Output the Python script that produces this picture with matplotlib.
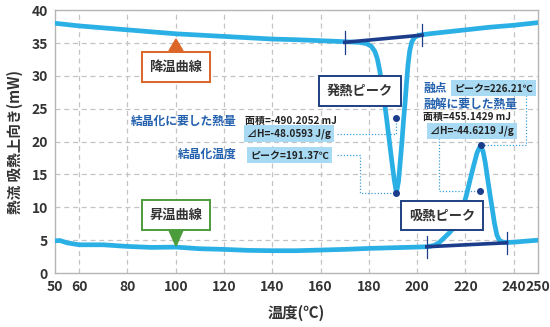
import numpy as np
import matplotlib.pyplot as plt

plt.rcParams['font.family'] = ['Noto Sans CJK JP', 'DejaVu Sans']

# 降温曲線 (cooling run) - temperature / heat flow
cool_t = [50, 60, 70, 80, 90, 100, 110, 120, 130, 140, 150, 160, 170, 176,
          179, 181, 182.5, 183.5, 184.5, 185.5, 186.5, 187.5, 188.5, 189.5,
          190.5, 191.4, 192.3, 193, 193.7, 194.3, 195, 195.6, 196.2, 196.9,
          197.8, 199, 201, 205, 210, 220, 230, 240, 250]
cool_hf = [38.0, 37.6, 37.3, 37.0, 36.7, 36.4, 36.2, 36.0, 35.8, 35.6, 35.5,
           35.35, 35.2, 35.1, 34.9, 34.5, 33.7, 32.6, 30.8, 28.5, 25.9, 23.0,
           20.0, 17.0, 14.2, 12.2, 14.0, 17.0, 20.0, 23.0, 26.0, 29.0, 31.7,
           33.8, 35.2, 35.9, 36.2, 36.4, 36.6, 37.0, 37.4, 37.7, 38.1]

# 昇温曲線 (heating run)
heat_t = [50, 52, 55, 60, 70, 80, 90, 100, 110, 120, 130, 140, 150, 160, 170,
          180, 190, 200, 204, 207, 209, 211, 213, 215, 217, 219, 220.5, 222,
          223.5, 224.8, 226.2, 227.3, 228.2, 229, 230, 231, 232, 233, 234,
          235.5, 237, 240, 245, 250]
heat_hf = [4.9, 4.95, 4.6, 4.3, 4.3, 4.05, 3.9, 3.95, 3.7, 3.6, 3.45, 3.4,
           3.4, 3.5, 3.6, 3.75, 3.85, 3.95, 4.0, 4.2, 4.6, 5.3, 6.0, 6.8, 8.2,
           10.0, 12.0, 14.3, 16.5, 18.3, 19.4, 18.5, 16.8, 14.8, 12.3, 10.0,
           7.6, 5.8, 5.0, 4.7, 4.65, 4.7, 4.85, 5.0]

# baselines used for the peak integration
cool_base_t = [170, 202]
cool_base_hf = [35.1, 36.2]
heat_base_t = [204, 237]
heat_base_hf = [4.0, 4.6]

# analysis results
exo_peak = (191.4, 12.2)
exo_mark = (191.2, 23.6)
endo_peak = (226.3, 19.5)
endo_mark = (226.2, 12.5)

xticks = [50, 60, 80, 100, 120, 140, 160, 180, 200, 220, 240, 250]
yticks = [0, 5, 10, 15, 20, 25, 30, 35, 40]

curve_c = '#2bb0e6'
navy = '#1c3d8c'
head_c = '#2360ad'
box_c = '#a9daf3'
dot_c = '#3d9fd8'

fig = plt.figure(figsize=(5.5, 3.27), dpi=100)
ax = fig.add_axes([0.1, 0.165, 0.878, 0.804])

for v in range(60, 250, 20):
    ax.axvline(v, color='#c4c4c4', lw=0.9, ls=(0, (4, 3)), zorder=0)
for v in range(5, 40, 5):
    ax.axhline(v, color='#c4c4c4', lw=0.9, ls=(0, (4, 3)), zorder=0)

ax.plot(cool_t, cool_hf, color=curve_c, lw=3.4, solid_capstyle='round', zorder=3)
ax.plot(heat_t, heat_hf, color=curve_c, lw=3.4, solid_capstyle='round', zorder=3)

for bt, bh in [(cool_base_t, cool_base_hf), (heat_base_t, heat_base_hf)]:
    ax.plot(bt, bh, color=navy, lw=2.6, zorder=4)
    for t, h in zip(bt, bh):
        ax.plot([t, t], [h - 1.7, h + 1.7], color=navy, lw=0.9, zorder=4)

# dotted leader lines
dot_kw = dict(color=dot_c, lw=0.9, ls=(0, (1, 1.5)), zorder=2)
ax.plot([166.8, exo_mark[0], exo_mark[0]], [21.2, 21.2, exo_mark[1]], **dot_kw)
ax.plot([166.8, 176.3, 176.3, exo_peak[0]], [17.9, 17.9, exo_peak[1], exo_peak[1]], **dot_kw)
ax.plot([endo_peak[0], 245, 245], [endo_peak[1], endo_peak[1], 27.4], **dot_kw)
ax.plot([209, 209, endo_mark[0]], [20.6, endo_mark[1], endo_mark[1]], **dot_kw)

for p in [exo_peak, exo_mark, endo_peak, endo_mark]:
    ax.plot(*p, 'o', color=navy, ms=4, zorder=5)

# curve labels with pointers
def callout(x, y, s, ec, tri):
    ax.text(x, y, s, ha='center', va='center', fontsize=9.5, weight='bold',
            color='#333333', zorder=6,
            bbox=dict(boxstyle='square,pad=0.6', fc='white', ec=ec, lw=1.4))
    if tri is not None:
        ax.fill([x - 2.9, x + 2.9, x], tri[:2] + [tri[2]], color=ec, zorder=6)

callout(100.1, 31.3, '降温曲線', '#dc6426', [33.8, 33.8, 35.6])
callout(100.1, 8.8, '昇温曲線', '#4c9c3c', [6.5, 6.5, 4.1])
callout(176.3, 27.7, '発熱ピーク', '#1e3f80', None)
callout(210.2, 8.75, '吸熱ピーク', '#1e3f80', None)

# numeric results
lbl_box = dict(boxstyle='square,pad=0.3', fc=box_c, ec='none')
ax.text(125.4, 23.1, '結晶化に要した熱量', ha='right', va='center', fontsize=8.5,
        weight='bold', color=head_c)
ax.text(128.7, 23.1, '面積=-490.2052 mJ', ha='left', va='center', fontsize=7.2,
        weight='bold', color='#222222')
ax.text(147.0, 21.2, '⊿H=-48.0593 J/g', ha='center', va='center', fontsize=7.2,
        weight='bold', color='#222222', bbox=lbl_box)
ax.text(125.4, 18.0, '結晶化温度', ha='right', va='center', fontsize=8.5,
        weight='bold', color=head_c)
ax.text(147.3, 17.9, 'ピーク=191.37℃', ha='center', va='center', fontsize=7.2,
        weight='bold', color='#222222', bbox=lbl_box)

ax.text(202.4, 28.1, '融点', ha='left', va='center', fontsize=8.5,
        weight='bold', color=head_c)
ax.text(231.6, 28.1, 'ピーク=226.21℃', ha='center', va='center', fontsize=7.2,
        weight='bold', color='#222222', bbox=lbl_box)
ax.text(202.4, 25.7, '融解に要した熱量', ha='left', va='center', fontsize=8.5,
        weight='bold', color=head_c)
ax.text(202.4, 23.7, '面積=455.1429 mJ', ha='left', va='center', fontsize=7.2,
        weight='bold', color='#222222')
ax.text(222.7, 21.6, '⊿H=-44.6219 J/g', ha='center', va='center', fontsize=7.2,
        weight='bold', color='#222222', bbox=lbl_box)

ax.set_xlim(50, 250)
ax.set_ylim(0, 40)
ax.set_xticks(xticks)
ax.set_yticks(yticks)
ax.tick_params(length=0, labelsize=10, labelcolor='#333333', pad=5)
for lab in ax.get_xticklabels() + ax.get_yticklabels():
    lab.set_fontweight('bold')
for sp in ax.spines.values():
    sp.set_color('#b5b5b5')
    sp.set_linewidth(1.0)

ax.set_xlabel('温度(℃)', fontsize=11, weight='bold', color='#333333', labelpad=8)
ax.set_ylabel('熱流 吸熱上向き(mW)', fontsize=10.5, weight='bold', color='#333333',
              labelpad=6)

fig.savefig('out.png', dpi=100)
